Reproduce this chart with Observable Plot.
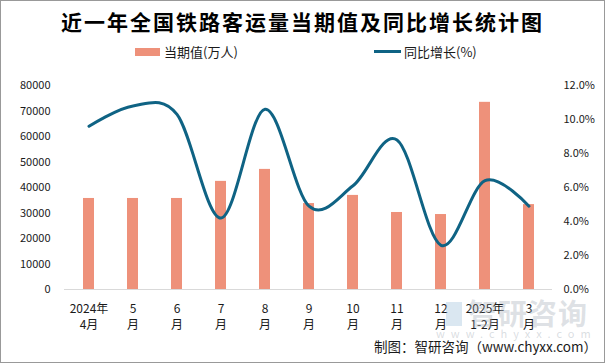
<!DOCTYPE html>
<html><head><meta charset="utf-8">
<script src="https://cdn.jsdelivr.net/npm/d3@7"></script>
<script src="https://cdn.jsdelivr.net/npm/@observablehq/plot@0.6"></script>
<style>
html,body{margin:0;padding:0;background:#fff;}
#wrap{position:relative;width:605px;height:363px;overflow:hidden;font-family:"Noto Sans CJK SC","Noto Sans",sans-serif;color:#1a1a1a;background:#fff;}
#chart{position:absolute;left:0;top:0;}
.abs{position:absolute;white-space:nowrap;line-height:1;}
#title{left:0;width:605px;top:11px;text-align:center;font-size:21px;font-weight:bold;letter-spacing:2px;color:#000;}
.sw{position:absolute;}
#border{position:absolute;left:0;top:0;width:603px;height:361px;border:1px solid #999;pointer-events:none;}
</style></head><body>
<div id="wrap">
  <div id="chart"></div>
  <div class="sw" style="left:446px;top:302px;width:16px;height:24px;background:rgba(150,185,215,0.35);"></div>
  <div class="abs" style="left:468px;top:298px;font-size:29px;color:rgba(160,170,180,0.35);font-weight:bold;letter-spacing:1px;">智研咨询</div>
  <div class="abs" style="left:436px;top:328px;font-size:11px;color:rgba(160,170,180,0.4);letter-spacing:6px;">www.chyxx.com</div>
  <div id="title" class="abs">近一年全国铁路客运量当期值及同比增长统计图</div>
  <div class="sw" style="left:135px;top:48px;width:25px;height:8px;background:#ee917a;"></div>
  <div class="abs" style="left:164px;top:45px;font-size:13px;">当期值(万人)</div>
  <div class="sw" style="left:374px;top:50px;width:27px;height:3px;background:#0f6384;"></div>
  <div class="abs" style="left:404px;top:45px;font-size:13px;">同比增长(%)</div>
  <div class="abs" style="right:8px;top:340px;font-size:13.5px;">制图：智研咨询（www.chyxx.com）</div>
  <div id="border"></div>
</div>
<script>
const categories = ["2024年\n4月","5\n月","6\n月","7\n月","8\n月","9\n月","10\n月","11\n月","12\n月","2025年\n1-2月","3\n月"];
const currentValues = [35700,35700,35700,42400,47100,33700,36900,30200,29400,73400,33300];
const growthRates = [9.6,10.8,10.3,4.2,10.6,4.9,6.1,8.8,2.6,6.4,4.9];
const leftTicks = [0,10000,20000,30000,40000,50000,60000,70000,80000];
const rightTicks = [0,2,4,6,8,10,12];
const leftMax = 80000, rightMax = 12;
const k = leftMax / rightMax;
const data = categories.map((c, i) => ({cat: c, value: currentValues[i], growth: growthRates[i]}));

const chart = Plot.plot({
  width: 605, height: 363,
  marginLeft: 64, marginRight: 53, marginTop: 85, marginBottom: 74,
  style: {fontFamily: '"Noto Sans CJK SC","Noto Sans",sans-serif', fontSize: "11px", color: "#1a1a1a", background: "transparent"},
  x: {type: "band", domain: categories, paddingInner: 0.75, paddingOuter: 0.375, axis: null},
  y: {domain: [0, leftMax], axis: null},
  marks: [
    Plot.barY(data, {x: "cat", y: "value", fill: "#ee917a"}),
    Plot.ruleY([0], {stroke: "#d9d9d9", strokeWidth: 1}),
    Plot.line(data, {x: "cat", y: d => d.growth * k, stroke: "#0f6384", strokeWidth: 3, curve: "cardinal"}),
    Plot.axisY(leftTicks, {anchor: "left", tickSize: 0, tickPadding: 14, tickFormat: d => String(d), label: null, fontSize: 11}),
    Plot.axisY(rightTicks.map(p => p * k), {anchor: "right", tickSize: 0, tickPadding: 11, tickFormat: d => (d / k).toFixed(1) + "%", label: null, fontSize: 11}),
    Plot.axisX({tickSize: 0, tickPadding: 12, lineHeight: 1.35, fontSize: 12, label: null})
  ]
});
document.getElementById("chart").appendChild(chart);
</script>
</body></html>
